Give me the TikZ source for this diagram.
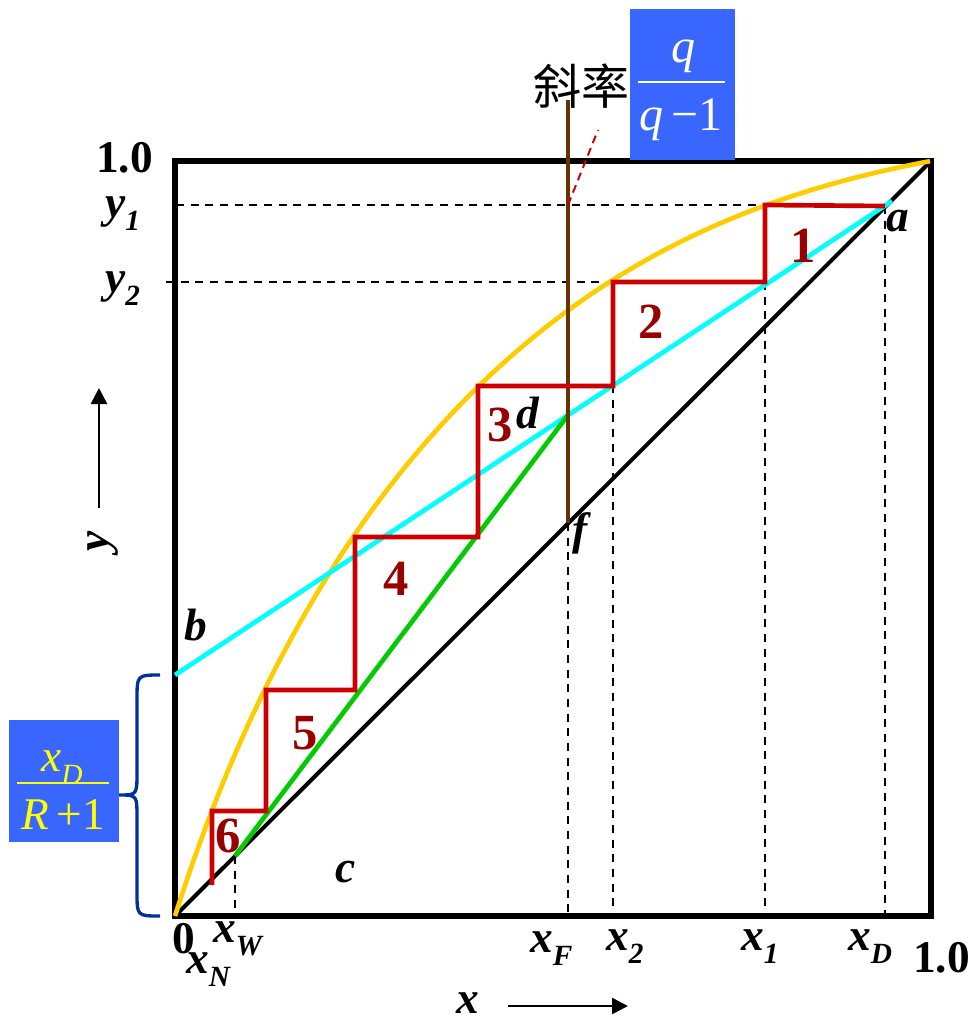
\documentclass[tikz,border=0pt]{standalone}
\usepackage{fontspec}
\setmainfont{Liberation Serif}
\newfontfamily\cjk{Noto Sans CJK SC}
\usetikzlibrary{arrows.meta}
\definecolor{boxblue}{RGB}{56,102,255}
\definecolor{eqyellow}{RGB}{255,204,0}
\definecolor{opcyan}{RGB}{0,255,255}
\definecolor{opgreen}{RGB}{0,204,0}
\definecolor{stepred}{RGB}{204,0,0}
\definecolor{numred}{RGB}{153,0,0}
\definecolor{qbrown}{RGB}{102,51,0}
\definecolor{bracecol}{RGB}{0,51,153}
\definecolor{fracyellow}{RGB}{255,255,0}
\newcommand\sublab[2]{#1\raisebox{-10pt}{\fontsize{22}{24}\selectfont #2}}
\begin{document}
\begin{tikzpicture}[x=0.75pt,y=-0.75pt,
  frame/.style={line width=4.5pt, black},
  curve/.style={line width=3pt},
  ccurve/.style={line width=3.5pt},
  guide/.style={dash pattern=on 6pt off 5pt, line width=1.5pt, black},
  lab/.style={font=\fontsize{34}{40}\selectfont\bfseries\itshape, inner sep=0pt},
  nlab/.style={font=\fontsize{34}{40}\selectfont\bfseries, inner sep=0pt},
  num/.style={font=\fontsize{38}{42}\selectfont\bfseries, text=numred, inner sep=0pt},
  axarrow/.style={line width=2pt, -{Triangle[length=12pt,width=12pt]}},
  fracw/.style={font=\fontsize{36}{40}\selectfont, text=white, inner sep=0pt},
  fracy/.style={font=\fontsize{34}{40}\selectfont, text=fracyellow, inner sep=0pt},
  declare function={alf(\t)=3.15+2.2*\t*\t; eqy(\t)=alf(\t)*\t/(1+(alf(\t)-1)*\t);}]
\useasboundingbox (0,0) rectangle (977,1022);

% key points
\coordinate (O) at (175,916);
\coordinate (TR) at (931,161);
\coordinate (A) at (885,206);
\coordinate (Aext) at (892,201);
\coordinate (B) at (175,675);
\coordinate (D) at (568,415);
\coordinate (F) at (568,523);
\coordinate (W) at (235,856);
\coordinate (Qtop) at (568,100);

% frame
\draw[frame] (175,161) rectangle (931,916);

% dashed guides
\draw[guide] (176,205) -- (765,205);
\draw[guide] (166,282) -- (612,282);
\draw[guide] (W) -- (235,916);
\draw[guide] (F) -- (568,916);
\draw[guide] (613,385) -- (613,916);
\draw[guide] (765,282) -- (765,916);
\draw[guide] (A) -- (885,916);

% diagonal
\draw[curve, black] (O) -- (TR);

% equilibrium curve
\draw[ccurve, eqyellow] plot[domain=0:1, samples=120, smooth] ({175+756*\x},{916-755*eqy(\x)});

% operating lines
\draw[ccurve, opcyan] (B) -- (Aext);
\draw[ccurve, opgreen] (W) -- (D);

% q-line
\draw[line width=3.5pt, qbrown] (F) -- (Qtop);
\draw[stepred, line width=1.5pt, dash pattern=on 6pt off 4pt] (568,205) -- (598,130);

% steps
\draw[ccurve, stepred] (A) -- (765,205) -- (765,282) -- (613,282) -- (613,386) -- (478,386) -- (478,537) -- (355,537) -- (355,690) -- (266,690) -- (266,811) -- (212,811) -- (212,885);

% step numbers
\node[num] (n1) at (803,246) {1};
\node[num] (n2) at (651,322) {2};
\node[num] (n3) at (500,425) {3};
\node[num] (n4) at (396,579) {4};
\node[num] (n5) at (305,733) {5};
\node[num] (n6) at (228,836) {6};

% point labels
\node[lab, anchor=base west] (la) at (886,231) {a};
\node[lab, anchor=base west] (lb) at (184,640) {b};
\node[lab, anchor=base west] (lc) at (335,882) {c};
\node[lab, anchor=base west] (ld) at (516,428) {d};
\node[lab, anchor=base west] (lf) at (572,544) {f};

% axis labels
\node[nlab, anchor=base west] (top10) at (96,172) {1.0};
\node[nlab, anchor=base west] (right10) at (913,972) {1.0};
\node[nlab, anchor=base west] (zero) at (172,953) {0};
\node[lab, anchor=base west] (y1) at (105,217) {\sublab{y}{1}};
\node[lab, anchor=base west] (y2) at (105,292) {\sublab{y}{2}};
\node[lab, anchor=base west] (xW) at (213,942) {\sublab{x}{W}};
\node[lab, anchor=base west] (xN) at (186,973) {\sublab{x}{N}};
\node[lab, anchor=base west] (xF) at (530,952) {\sublab{x}{F}};
\node[lab, anchor=base west] (x2) at (606,950) {\sublab{x}{2}};
\node[lab, anchor=base west] (x1) at (741,950) {\sublab{x}{1}};
\node[lab, anchor=base west] (xD) at (848,950) {\sublab{x}{D}};

% axis arrows
\node[lab, rotate=90] (yax) at (103,541) {y};
\coordinate (ya0) at (99,508);
\coordinate (ya1) at (99,388);
\draw[axarrow] (ya0) -- (ya1);
\node[lab, anchor=base west] (xax) at (456,1013) {x};
\coordinate (xa0) at (508,1006);
\coordinate (xa1) at (628,1006);
\draw[axarrow] (xa0) -- (xa1);

% slope label
\node[font=\cjk\fontsize{36}{40}\selectfont, inner sep=0pt] (slope) at (581,86) {斜率};
\fill[boxblue] (630,9) rectangle (735,160);
\node[fracw] (qnum) at (683,56) {\textit{q}};
\draw[white, line width=2pt] (638,82) -- (725,82);
\node[fracw] (qden) at (681,120) {\textit{q}\,−1};

% brace and intercept label
\draw[bracecol, line width=2.5pt] (160,675) .. controls (137,675) .. (137,700) -- (137,772) .. controls (137,795) .. (119,795) .. controls (137,795) .. (137,818) -- (137,892) .. controls (137,916) .. (160,916);
\fill[boxblue] (9,720) rectangle (119,842);
\node[fracy, anchor=base] (xdnum) at (62,771) {\sublab{\textit{x}}{\textit{D}}};
\draw[fracyellow, line width=2pt] (17,783) -- (109,783);
\node[fracy] (xdden) at (63,815) {\textit{R}\,+1};
\end{tikzpicture}
\end{document}
